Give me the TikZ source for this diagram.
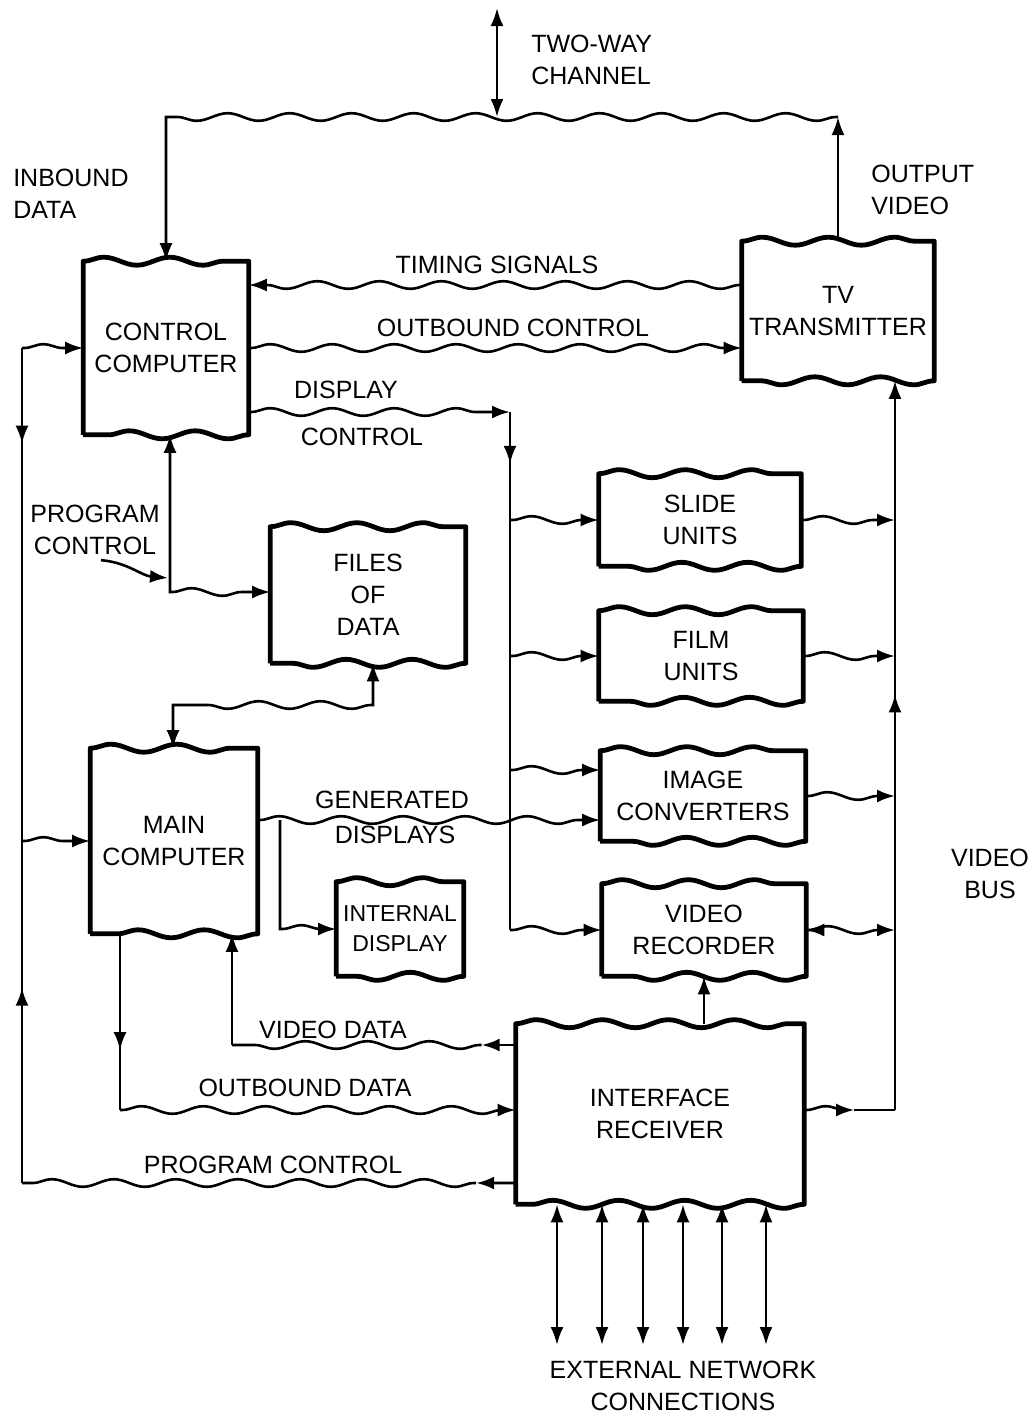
\documentclass[tikz,border=0pt]{standalone}
\usepackage{fontspec}
\setmainfont{Liberation Sans}
\usetikzlibrary{arrows.meta,calc,decorations.pathmorphing,decorations.markings}
\tikzset{> = {Latex[length=9pt,width=6.5pt]}, every picture/.style={line width=1.3pt}}
\tikzset{
  unit/.style={inner sep=0pt, align=center, font=\fontsize{12.5}{16}\selectfont},
  unitline/.style={line width=2.4pt, line join=round,
    decoration={snake, segment length=33pt, amplitude=2pt}},
  lbl/.style={inner sep=0pt, align=center, font=\fontsize{12.5}{16}\selectfont},
  wavy/.style={decoration={snake, segment length=31pt, amplitude=1.9pt,
    pre length=1pt, post length=4pt}},
  wave/.style={wavy, decorate},
  arrowat/.style={postaction={decorate, decoration={markings,
    mark=at position #1 with {\arrow{>}}}}},
  arrowback/.style={postaction={decorate, decoration={markings,
    mark=at position #1 with {\arrow{<}}}}},
}

\begin{document}
\begin{tikzpicture}[x=0.5pt, y=-0.5pt]
\useasboundingbox (0,0) rectangle (1032,1420);

% units
\node[unit, minimum width=81.5pt, minimum height=85.5pt] (cc) at (166,348) {CONTROL\\COMPUTER};
\node[unit, minimum width=95pt, minimum height=68.5pt] (tv) at (838,311) {TV\\TRANSMITTER};
\node[unit, minimum width=96.5pt, minimum height=67pt] (files) at (368,595) {FILES\\OF\\DATA};
\node[unit, minimum width=82.5pt, minimum height=91.5pt] (main) at (174,841) {MAIN\\COMPUTER};
\node[unit, minimum width=62.5pt, minimum height=46pt, font=\fontsize{11.5}{15}\selectfont] (intdisp) at (400,929) {INTERNAL\\DISPLAY};
\node[unit, minimum width=100pt, minimum height=45pt] (slide) at (700,520) {SLIDE\\UNITS};
\node[unit, minimum width=101pt, minimum height=44pt] (film) at (701,656) {FILM\\UNITS};
\node[unit, minimum width=101.5pt, minimum height=44pt] (imgconv) at (703,796) {IMAGE\\CONVERTERS};
\node[unit, minimum width=101pt, minimum height=45pt] (vrec) at (704,930) {VIDEO\\RECORDER};
\node[unit, minimum width=143pt, minimum height=89pt] (ir) at (660,1114) {INTERFACE\\RECEIVER};

\foreach \u in {cc,tv,files,main,intdisp,slide,film,imgconv,vrec,ir}
  \draw[unitline] (\u.south west) -- (\u.north west) decorate {-- (\u.north east)}
    -- (\u.south east) decorate {-- (\u.south west)};

% labels
\node[lbl, anchor=west, align=left] (chlbl) at (530,60) {TWO-WAY\\CHANNEL};
\node[lbl, anchor=west, align=left] (inlbl) at (12,194) {INBOUND\\DATA};
\node[lbl, anchor=west, align=left] (ovlbl) at (870,190) {OUTPUT\\VIDEO};
\node[lbl] (tslbl) at (497,265) {TIMING SIGNALS};
\node[lbl] (oclbl) at (513,328) {OUTBOUND CONTROL};
\node[lbl] (dclbl) at (346,390) {DISPLAY};
\node[lbl] (dclbl2) at (362,437) {CONTROL};
\node[lbl] (pclbl) at (95,530) {PROGRAM\\CONTROL};
\node[lbl] (gdlbl) at (392,800) {GENERATED};
\node[lbl] (gdlbl2) at (395,835) {DISPLAYS};
\node[lbl] (vdlbl) at (333,1030) {VIDEO DATA};
\node[lbl] (odlbl) at (305,1088) {OUTBOUND DATA};
\node[lbl] (pclbl2) at (273,1165) {PROGRAM CONTROL};
\node[lbl] (vblbl) at (990,874) {VIDEO\\BUS};
\node[lbl] (enlbl) at (683,1386) {EXTERNAL NETWORK\\CONNECTIONS};

% corners
\coordinate (chtop) at (497,8);
\coordinate (chbot) at (497,117);
\coordinate (topL) at (166,117);
\coordinate (topR) at (838,117);
\coordinate (dc) at (510,412);
\coordinate (pc) at (170,592);
\coordinate (pcin) at (168,578);
\coordinate (fm1) at (373,705);
\coordinate (fm2) at (173,705);
\coordinate (gd) at (280,820);
\coordinate (lp) at (22,1183);
\coordinate (od) at (120,1110);
\coordinate (vbtop) at ([xshift=28.5pt]tv.south);
\coordinate (ir1) at ([yshift=34.5pt]ir.west);
\coordinate (ir2) at ([yshift=2pt]ir.east);
\coordinate (ir3) at ([yshift=-34.5pt]ir.west);
\coordinate (vd) at (ir1 -| 232,0);
\coordinate (vb) at (vbtop |- ir2);
\coordinate (ic1) at ([yshift=13pt]imgconv.west);
\coordinate (mn1) at ([yshift=10.5pt]main.east);
\coordinate (tv1) at ([yshift=13pt]tv.west);
\coordinate (cc1) at ([yshift=-32pt]cc.east);

% channel and control computer
\draw[<->] (chtop) -- (chbot);
\draw[->] (tv.north) -- (topR);
\draw[wavy,->] (topR) decorate {-- (topL)} -- (cc.north);
\draw[wave,->] (tv1) -- (tv1 -| cc.east);
\draw[wave,->] (cc.east) -- (cc.east -| tv.west);
\draw[wave,->] (cc1) -- (dc);
\draw[arrowat=0.1] (dc) -- (dc |- vrec.west);
\draw[wave,->] (dc |- slide.west) -- (slide.west);
\draw[wave,->] (dc |- film.west) -- (film.west);
\draw[wave,->] (dc |- ic1) -- (ic1);
\draw[wave,->] (dc |- vrec.west) -- (vrec.west);
\draw[wavy,<->] (cc.south -| pc) -- (pc) decorate {-- (pc -| files.west)};
\draw[->] ([xshift=3pt,yshift=-2pt]pclbl.south) to[out=-5, in=175] (pcin);
\draw[wavy,<->] (fm1 |- files.south) -- (fm1) decorate {-- (fm2)} -- (fm2 |- main.north);

% video bus
\draw[->, arrowat=0.57] (vb) -- (vbtop);
\draw[wave,->] (slide.east) -- (slide.east -| vbtop);
\draw[wave,->] (film.east) -- (film.east -| vbtop);
\draw[wave,->] (imgconv.east) -- (imgconv.east -| vbtop);
\draw[wave,<->] (vrec.east) -- (vrec.east -| vbtop);
\draw[wave,->] (ir2) -- ($(ir2)!0.55!(vb)$) coordinate (irmid);
\draw[wave] (irmid) -- (vb);

% main computer
\draw[wave,->] (mn1) -- (mn1 -| imgconv.west);
\draw[wavy,->] (mn1 -| gd) -- (gd |- intdisp.west) decorate {-- (intdisp.west)};
\draw[arrowat=0.66] (od |- main.south) -- (od);
\draw[wave,->] (od) -- (od -| ir.west);
\draw[wave,->] (ir1) -- ($(ir1)!0.12!(vd)$) coordinate (vdmid);
\draw[wave] (vdmid) -- (vd);
\draw[->] (vd) -- (vd |- main.south);

% program control loop
\draw[wave,->] (ir3) -- ($(ir3)!0.08!(lp)$) coordinate (pcmid);
\draw[wave] (pcmid) -- (lp);
\draw[arrowat=0.234, arrowback=0.907] (lp) -- (lp |- cc.west);
\draw[wave,->] (lp |- cc.west) -- (cc.west);
\draw[wave,->] (lp |- main.west) -- (main.west);

% interface receiver
\draw[->] (vrec.south |- ir.north) -- (vrec.south);
\foreach \x [count=\i] in {557,602,643,683,722,766} {
  \coordinate (en\i) at (\x,1345);
  \draw[<->] (en\i) -- (en\i |- ir.south);
}
\end{tikzpicture}
\end{document}
